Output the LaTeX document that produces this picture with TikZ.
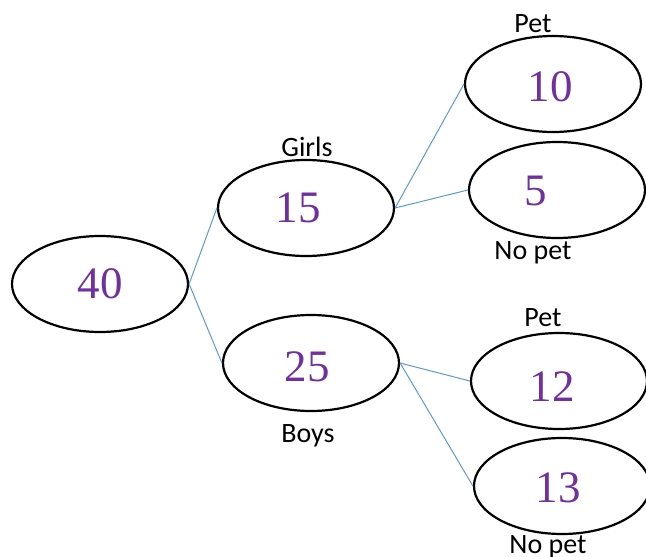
\documentclass[tikz,border=0pt]{standalone}
\usepackage{fontspec}
\setmainfont{Carlito}
\newfontfamily\numfont{Liberation Serif}
\usetikzlibrary{shapes.geometric}
\definecolor{numpurple}{HTML}{7030A0}
\definecolor{linkblue}{HTML}{5B9BD5}
\tikzset{
  oval/.style={ellipse, draw=black, line width=2.2pt, inner sep=0pt, minimum width=176pt, minimum height=96pt},
  num/.style={inner sep=0pt, text=numpurple, font=\numfont\fontsize{45}{48}\selectfont},
  lbl/.style={inner sep=0pt, anchor=base, font=\fontsize{28}{32}\selectfont},
  link/.style={draw=linkblue, line width=1pt}
}
\begin{document}
\begin{tikzpicture}[x=1pt,y=-1pt]
\useasboundingbox[fill=white] (0,0) rectangle (646,557);
% ellipses
\node[oval] (e40) at (100,284) {};
\node[oval] (e15) at (306,208) {};
\node[oval] (e25) at (311,363) {};
\node[oval] (e10) at (553,84) {};
\node[oval] (e5)  at (557,190) {};
\node[oval] (e12) at (559,381) {};
\node[oval] (e13) at (562,486) {};
% numbers
\node[num] (n40) at (100,284) {40};
\node[num] (n15) at (298,208) {15};
\node[num] (n25) at (307,367) {25};
\node[num] (n10) at (550,87) {10};
\node[num] (n5)  at (536,191) {5};
\node[num] (n12) at (552,387) {12};
\node[num] (n13) at (558,488) {13};
% labels
\node[lbl] (girls) at (307,156) {Girls};
\node[lbl] (boys)  at (308,442) {Boys};
\node[lbl] (pet1)  at (533,32) {Pet};
\node[lbl] (nopet1) at (533,259) {No pet};
\node[lbl] (pet2)  at (543,326) {Pet};
\node[lbl] (nopet2) at (548,553) {No pet};
% connectors
\draw[link] (e40.east) -- (e15.west);
\draw[link] (e40.east) -- (e25.west);
\draw[link] (e15.east) -- (e10.west);
\draw[link] (e15.east) -- (e5.west);
\draw[link] (e25.east) -- (e12.west);
\draw[link] (e25.east) -- (e13.west);
\end{tikzpicture}
\end{document}
